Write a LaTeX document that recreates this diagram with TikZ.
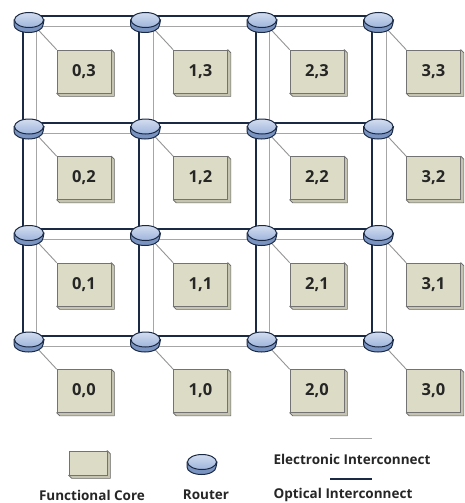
\documentclass[tikz,border=0pt]{standalone}
\usepackage{fontspec}
\setmainfont{Open Sans}
\usetikzlibrary{calc,shapes.geometric}
\pgfdeclarelayer{bgwhite}
\pgfdeclarelayer{bg}
\pgfdeclarelayer{bgtop}
\pgfsetlayers{bgwhite,bg,bgtop,main}
\definecolor{navy}{HTML}{1B2A44}
\definecolor{rtop}{HTML}{9DB4DC}
\definecolor{rside}{HTML}{7A94C2}
\definecolor{corefill}{HTML}{DCDCC6}
\definecolor{coreside}{HTML}{C4C4B0}
\definecolor{wire}{HTML}{A6A6A6}
\tikzset{
  router/.style={ellipse, minimum width=29pt, minimum height=15pt, inner sep=0pt,
    draw=navy, line width=1pt, top color=rtop!45!white, bottom color=rtop},
  core/.style={rectangle, minimum width=54pt, minimum height=43pt, inner sep=0pt,
    draw=gray!90!black, line width=0.6pt, fill=corefill,
    font=\bfseries\fontsize{16.5}{18}\selectfont, text=black!85},
  optical/.style={draw=navy, line width=2pt},
  electronic/.style={draw=wire, line width=1pt},
  link/.style={draw=wire!90!black, line width=0.9pt},
  lbl/.style={font=\bfseries\fontsize{13.5}{15}\selectfont, text=black!85},
  rbody/.style={fill=rside, draw=navy, line width=1pt},
  cshadow/.style={fill=coreside, draw=gray!80!black, line width=0.6pt},
}
\begin{document}
\begin{tikzpicture}[x=1pt,y=-1pt]
\begin{pgfonlayer}{bgwhite}
\fill[white] (0,0) rectangle (464,503);
\end{pgfonlayer}
\useasboundingbox (0,0) rectangle (464,503);
% routers and cores
\foreach \i in {0,...,3}{
  \foreach \j in {0,...,3}{
    \pgfmathsetmacro{\rx}{29+116.5*\i}
    \pgfmathsetmacro{\ry}{339.5-106.5*\j}
    \node[router] (r\i\j) at (\rx,\ry) {};
    \node[core] (c\i\j) at ($(r\i\j.center)+(55,51.5)$) {\i,\j};
    \begin{pgfonlayer}{bgtop}
      \path[rbody] (r\i\j.west) -- ++(0,5) arc[start angle=180,end angle=360,x radius=14.5pt,y radius=7.5pt] -- (r\i\j.east) -- cycle;
    \end{pgfonlayer}
    \begin{pgfonlayer}{bg}
      \path[cshadow] (c\i\j.north east) -- ++(3,3) -- ($(c\i\j.south east)+(3,3)$) -- ($(c\i\j.south west)+(3,3)$) -- (c\i\j.south west) -- cycle;
      \draw[link] (r\i\j.center) -- (c\i\j.north west);
    \end{pgfonlayer}
  }
}
% interconnects
\begin{pgfonlayer}{bg}
\foreach \i/\k in {0/1,1/2,2/3}{
  \foreach \j in {0,...,3}{
    \draw[optical] ($(r\i\j.center)+(0,-4)$) -- ($(r\k\j.center)+(0,-4)$);
    \draw[electronic] ($(r\i\j.center)+(0,6.5)$) -- ($(r\k\j.center)+(0,6.5)$);
    \draw[optical] ($(r\j\i.center)+(-6.5,0)$) -- ($(r\j\k.center)+(-6.5,0)$);
    \draw[electronic] ($(r\j\i.center)+(7.5,0)$) -- ($(r\j\k.center)+(7.5,0)$);
  }
}
\end{pgfonlayer}
% legend
\node[core, minimum width=38pt, minimum height=24pt] (lc) at (88,463) {};
\begin{pgfonlayer}{bg}
  \path[cshadow] (lc.north east) -- ++(3,3) -- ($(lc.south east)+(3,3)$) -- ($(lc.south west)+(3,3)$) -- (lc.south west) -- cycle;
\end{pgfonlayer}
\node[lbl] (lcl) at (92,495) {Functional Core};
\node[router] (lr) at (202,462) {};
\begin{pgfonlayer}{bgtop}
  \path[rbody] (lr.west) -- ++(0,5) arc[start angle=180,end angle=360,x radius=14.5pt,y radius=7.5pt] -- (lr.east) -- cycle;
\end{pgfonlayer}
\node[lbl] (lrl) at (206,495) {Router};
\coordinate (e1) at (330,438);
\coordinate (e2) at (372,438);
\draw[electronic] (e1) -- (e2);
\node[lbl, anchor=west] (lel) at (270,459) {Electronic Interconnect};
\coordinate (o1) at (330,479);
\coordinate (o2) at (372,479);
\draw[optical] (o1) -- (o2);
\node[lbl, anchor=west] (lol) at (270,495) {Optical Interconnect};
\end{tikzpicture}
\end{document}
